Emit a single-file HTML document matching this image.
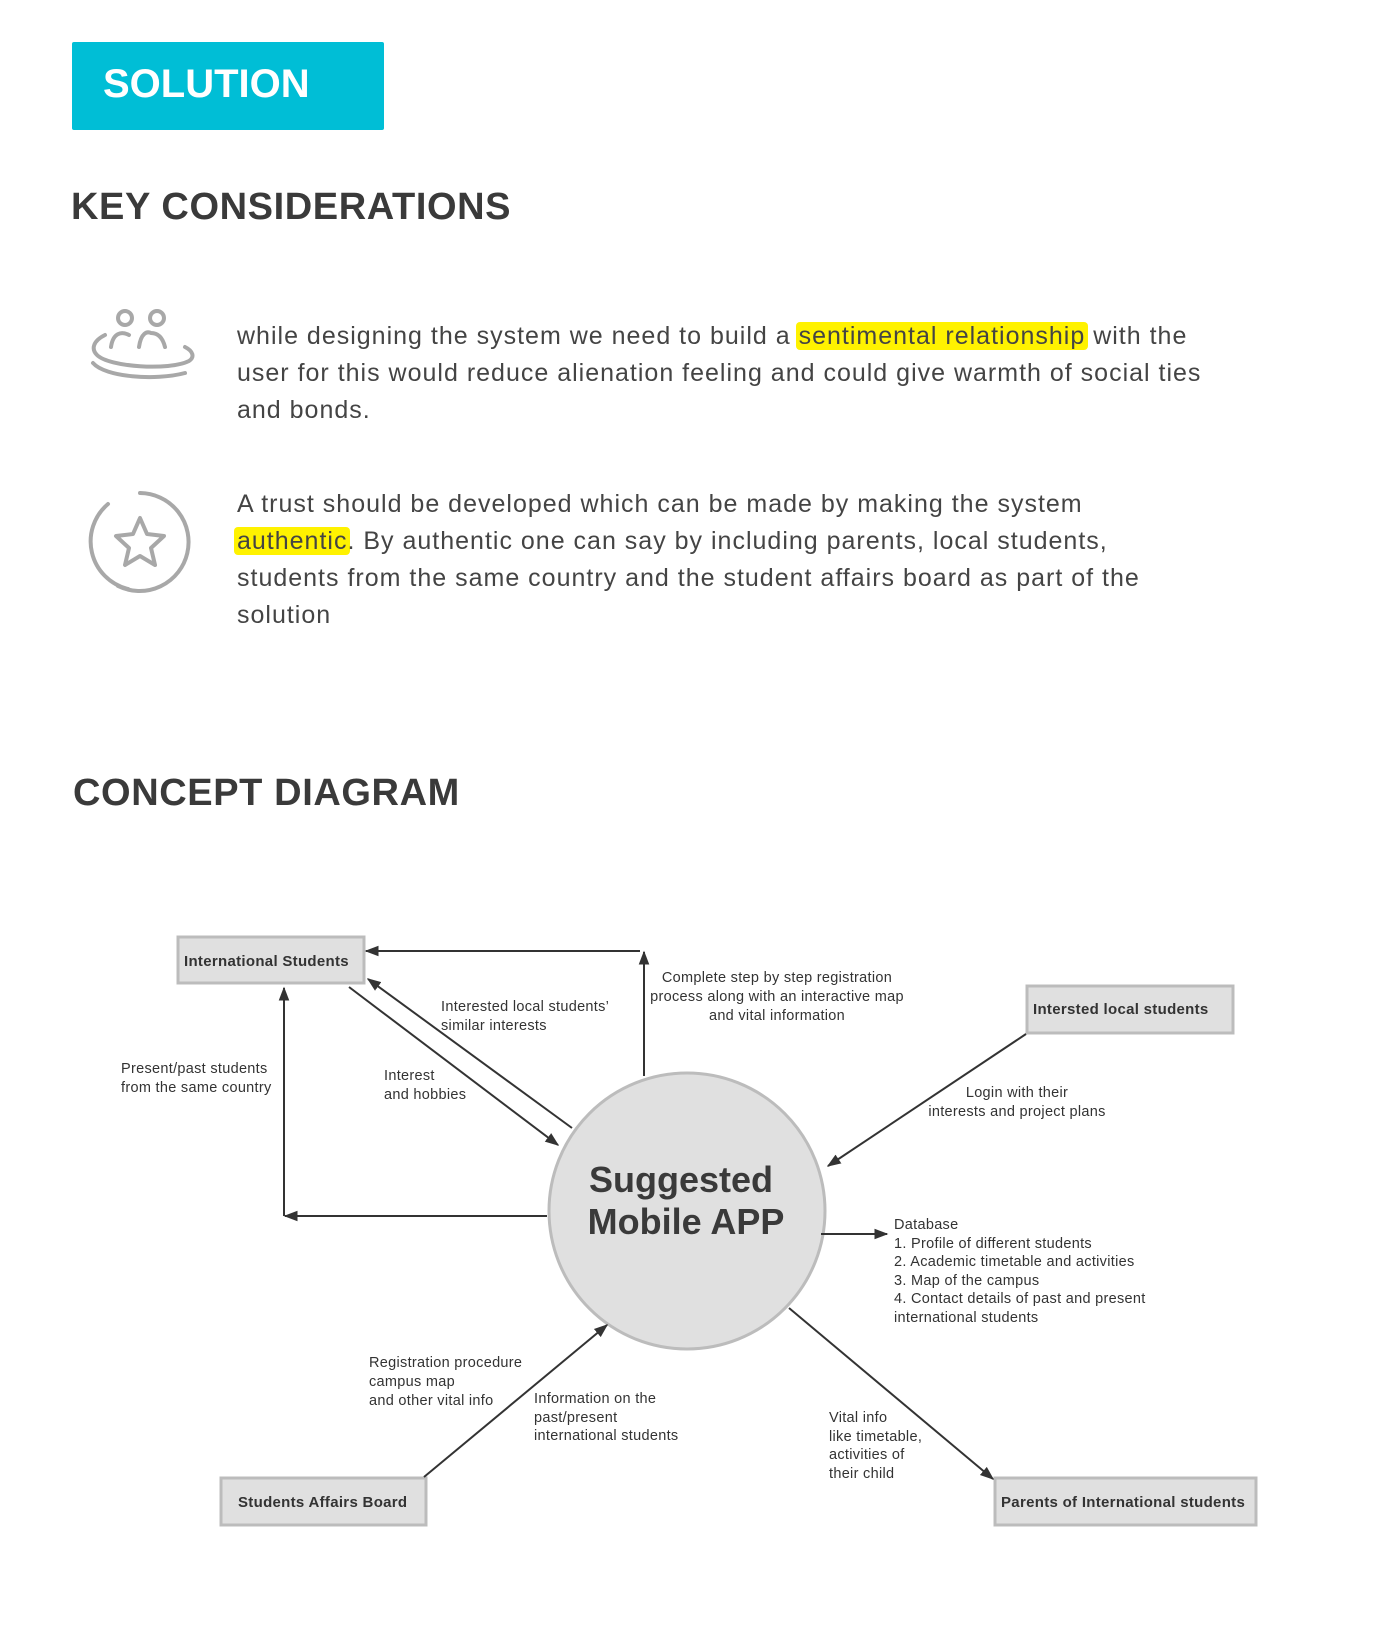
<!DOCTYPE html>
<html><head><meta charset="utf-8"><style>
html,body{margin:0;padding:0;background:#fff;}
body{width:1400px;height:1649px;position:relative;overflow:hidden;font-family:"Liberation Sans",Arial,sans-serif;color:#3a3a3a;}
.abs{position:absolute;white-space:nowrap;}
.sol{left:72px;top:42px;width:312px;height:88px;background:#00bed6;border-radius:2px;}
.sol span{position:absolute;left:31px;top:20px;color:#fff;font-weight:bold;font-size:40px;}
h2{margin:0;position:absolute;font-size:38px;font-weight:bold;color:#3a3a3a;white-space:nowrap;letter-spacing:0.6px;}
.p{font-size:25px;color:#444;line-height:37px;letter-spacing:1px;}
.hl{background:#fff200;border-radius:4px;padding:0 3px;margin:0 -3px;}
</style></head><body>
<div class="abs sol"><span>SOLUTION</span></div>
<h2 style="left:71px;top:186px;">KEY CONSIDERATIONS</h2>

<svg class="abs" style="left:85px;top:305px" width="115" height="85" viewBox="0 0 115 85" fill="none" stroke="#a8a8a8" stroke-width="4" stroke-linecap="round">
<circle cx="40" cy="13" r="7"/><circle cx="72" cy="13" r="7"/>
<path d="M26 42 C28 28 36 26 44 30 M54 42 C56 28 62 26 66 28 C74 28 78 34 80 42"/>
<path d="M20 30 C8 36 6 44 12 50 C24 62 84 66 104 56 C110 52 108 46 100 42"/>
<path d="M8 58 C20 72 70 76 100 68"/>
</svg>
<div class="abs p" style="left:237px;top:318px">while designing the system we need to build a <span class="hl">sentimental relationship</span> with the<br>user for this would reduce alienation feeling and could give warmth of social ties<br>and bonds.</div>

<svg class="abs" style="left:88px;top:490px" width="104" height="104" viewBox="0 0 104 104" fill="none" stroke="#a8a8a8" stroke-width="4" stroke-linecap="round" stroke-linejoin="round">
<path d="M52 3 A49 49 0 1 1 30 96"/>
<path d="M40 99 A49 49 0 0 1 20 14"/>
<path d="M52 28 L59 44 L76 46 L63 58 L67 75 L52 66 L37 75 L41 58 L28 46 L45 44 Z"/>
</svg>
<div class="abs p" style="left:237px;top:486px">A trust should be developed which can be made by making the system<br><span class="hl">authentic</span>. By authentic one can say by including parents, local students,<br>students from the same country and the student affairs board as part of the<br>solution</div>

<h2 style="left:73px;top:772px;">CONCEPT DIAGRAM</h2>

<svg class="abs" style="left:0;top:0" width="1400" height="1649" viewBox="0 0 1400 1649" font-family="Liberation Sans, Arial, sans-serif">
<defs><marker id="a" viewBox="0 0 10 10" refX="9" refY="5" markerWidth="14" markerHeight="14" orient="auto" markerUnits="userSpaceOnUse"><path d="M0 1.2 L10 5 L0 8.8 Z" fill="#333"/></marker></defs>
<g stroke="#bcbcbc" stroke-width="3" fill="#e0e0e0">
<rect x="178" y="937" width="186" height="46"/>
<rect x="1027" y="986" width="206" height="47"/>
<rect x="221" y="1478" width="205" height="47"/>
<rect x="995" y="1478" width="261" height="47"/>
<circle cx="687" cy="1211" r="138"/>
</g>
<g font-size="15" font-weight="bold" fill="#333" letter-spacing="0.3">
<text x="184" y="966">International Students</text>
<text x="1033" y="1014">Intersted local students</text>
<text x="238" y="1507">Students Affairs Board</text>
<text x="1001" y="1507">Parents of International students</text>
</g>
<g font-size="36" font-weight="bold" fill="#3a3a3a" text-anchor="middle">
<text x="681" y="1192">Suggested</text>
<text x="686" y="1234">Mobile APP</text>
</g>
<g stroke="#333" stroke-width="2" fill="none">
<line x1="640" y1="951" x2="366" y2="951" marker-end="url(#a)"/>
<line x1="644" y1="1076" x2="644" y2="952" marker-end="url(#a)"/>
<line x1="572" y1="1128" x2="368" y2="979" marker-end="url(#a)"/>
<line x1="349" y1="987" x2="558" y2="1145" marker-end="url(#a)"/>
<line x1="547" y1="1216" x2="285" y2="1216" marker-end="url(#a)"/>
<line x1="284" y1="1216" x2="284" y2="988" marker-end="url(#a)"/>
<line x1="1026" y1="1034" x2="828" y2="1166" marker-end="url(#a)"/>
<line x1="821" y1="1234" x2="887" y2="1234" marker-end="url(#a)"/>
<line x1="424" y1="1477" x2="607" y2="1325" marker-end="url(#a)"/>
<line x1="789" y1="1308" x2="993" y2="1479" marker-end="url(#a)"/>
</g>
<g font-size="14.5" fill="#333" letter-spacing="0.3">
<text text-anchor="middle"><tspan x="777" y="982">Complete step by step registration</tspan><tspan x="777" y="1001">process along with an interactive map</tspan><tspan x="777" y="1020">and vital information</tspan></text>
<text><tspan x="441" y="1011">Interested local students’</tspan><tspan x="441" y="1030">similar interests</tspan></text>
<text><tspan x="384" y="1080">Interest</tspan><tspan x="384" y="1099">and hobbies</tspan></text>
<text><tspan x="121" y="1073">Present/past students</tspan><tspan x="121" y="1092">from the same country</tspan></text>
<text text-anchor="middle"><tspan x="1017" y="1097">Login with their</tspan><tspan x="1017" y="1116">interests and project plans</tspan></text>
<text><tspan x="894" y="1229">Database</tspan><tspan x="894" y="1248">1. Profile of different students</tspan><tspan x="894" y="1266">2. Academic timetable and activities</tspan><tspan x="894" y="1285">3. Map of the campus</tspan><tspan x="894" y="1303">4. Contact details of past and present</tspan><tspan x="894" y="1322">international students</tspan></text>
<text><tspan x="369" y="1367">Registration procedure</tspan><tspan x="369" y="1386">campus map</tspan><tspan x="369" y="1405">and other vital info</tspan></text>
<text><tspan x="534" y="1403">Information on the</tspan><tspan x="534" y="1422">past/present</tspan><tspan x="534" y="1440">international students</tspan></text>
<text><tspan x="829" y="1422">Vital info</tspan><tspan x="829" y="1441">like timetable,</tspan><tspan x="829" y="1459">activities of</tspan><tspan x="829" y="1478">their child</tspan></text>
</g>
</svg>
</body></html>
